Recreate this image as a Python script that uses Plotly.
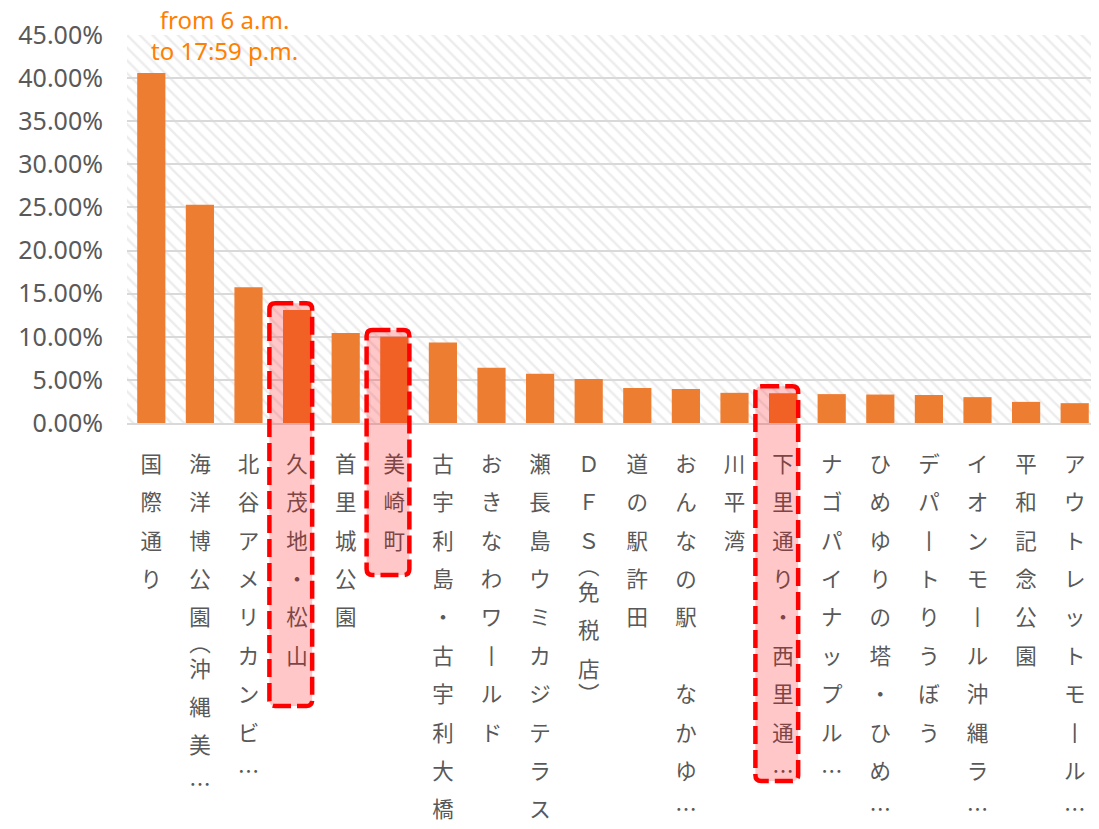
import plotly.graph_objects as go

# ---------------- data ----------------
categories = [
    "国際通り", "海洋博公園(沖縄美…", "北谷アメリカンビ…", "久茂地・松山", "首里城公園",
    "美崎町", "古宇利島・古宇利大橋", "おきなわワールド", "瀬長島ウミカジテラス", "ＤＦＳ(免税店)",
    "道の駅許田", "おんなの駅　なかゆ…", "川平湾", "下里通り・西里通…", "ナゴパイナップル…",
    "ひめゆりの塔・ひめ…", "デパートりうぼう", "イオンモール沖縄ラ…", "平和記念公園", "アウトレットモール…",
]
shares = [40.6, 25.3, 15.75, 13.1, 10.45, 10.0, 9.35, 6.4, 5.7, 5.1,
          4.05, 3.95, 3.5, 3.45, 3.35, 3.3, 3.25, 3.0, 2.45, 2.3]
highlighted = ["久茂地・松山", "美崎町", "下里通り・西里通…"]
y_ticks = [0, 5, 10, 15, 20, 25, 30, 35, 40, 45]
y_tick_labels = [f"{v:.2f}%" for v in y_ticks]
note_text = "from 6 a.m.<br>to 17:59 p.m."

# ---------------- style ----------------
PAGE_OFFSET = 8            # default body margin of the html page
W, H = 1099 - PAGE_OFFSET, 829 - PAGE_OFFSET
M = dict(l=119, r=0, t=27, b=406)
PLOT_H = H - M["t"] - M["b"]
BAR_COLOR = "#ED7D31"
GRID = "#D9D9D9"
TEXT = "#595959"
NOTE_COLOR = "#FF8000"
UNIT = 12.8                # px per text line (3 lines per character row)
BASE_FONT = UNIT / 1.3
CHAR_FONT = 21.5
VERT = {"(": "︵", ")": "︶", "ー": "丨"}
# highlight box bottoms (px from top of the page)
HL_BOTTOM_PX = {"久茂地・松山": 706, "美崎町": 575, "下里通り・西里通…": 781}


def vertical(label):
    chars = list(label)
    lines = []
    for k, ch in enumerate(chars):
        g = VERT.get(ch, ch)
        nxt = chars[k + 1] if k + 1 < len(chars) else ""
        units = 2 if (ch in "()" or nxt in "()") else 3
        lines.append(f"<span style='font-size:{CHAR_FONT}px'>{g}</span>" if g.strip() else " ")
        lines.extend([" "] * (units - 1))
    while lines and lines[-1] == " ":
        lines.pop()
    return "<br>".join(lines)


n = len(categories)
xs = list(range(n))
ymax = y_ticks[-1]

fig = go.Figure()

# hatched plot background
fig.add_trace(go.Bar(
    x=[(n - 1) / 2], y=[ymax], width=[n],
    marker=dict(color="rgba(0,0,0,0)", line=dict(width=0),
                pattern=dict(shape="\\", fgcolor="#DADADA", bgcolor="rgba(0,0,0,0)",
                             size=9, solidity=0.28)),
    hoverinfo="skip", showlegend=False,
))

fig.add_trace(go.Bar(
    x=xs, y=shares, width=0.58,
    marker=dict(color=BAR_COLOR, line=dict(width=0)),
    showlegend=False,
))

# highlight boxes (rounded, dashed)
rx = 0.12
ry = 6 / PLOT_H
plot_bottom_px = PAGE_OFFSET + M["t"] + PLOT_H
for name in highlighted:
    i = categories.index(name)
    x0, x1 = i - 0.57, i + 0.31
    y1 = (shares[i] + 0.8) / ymax
    y0 = (plot_bottom_px - HL_BOTTOM_PX[name]) / PLOT_H
    path = (f"M {x0+rx},{y1} L {x1-rx},{y1} Q {x1},{y1} {x1},{y1-ry} "
            f"L {x1},{y0+ry} Q {x1},{y0} {x1-rx},{y0} L {x0+rx},{y0} "
            f"Q {x0},{y0} {x0},{y0+ry} L {x0},{y1-ry} Q {x0},{y1} {x0+rx},{y1} Z")
    fig.add_shape(type="path", path=path, xref="x", yref="paper",
                  fillcolor="rgba(255,0,0,0.22)",
                  line=dict(color="#FF0000", width=4.5, dash="18px,6px"),
                  layer="above")

fig.add_annotation(text=note_text, x=1.5, xref="x", y=1.0, yref="paper",
                   yanchor="middle", showarrow=False,
                   font=dict(family="Noto Sans", size=24, color=NOTE_COLOR))

fig.update_layout(
    width=W, height=H, margin=M,
    paper_bgcolor="white", plot_bgcolor="white",
    barmode="overlay", hovermode=False,
    xaxis=dict(range=[-0.5, n - 0.5], tickmode="array", tickvals=xs,
               ticktext=[vertical(c) for c in categories], tickangle=0,
               tickfont=dict(family="Noto Sans CJK JP", size=BASE_FONT, color=TEXT),
               showgrid=False, zeroline=False, showline=True, linecolor=GRID,
               linewidth=2, ticks="", ticklabelstandoff=35, automargin=False),
    yaxis=dict(range=[0, ymax], tickmode="array", tickvals=y_ticks, ticktext=y_tick_labels,
               tickfont=dict(family="Noto Sans", size=25, color=TEXT),
               showgrid=True, gridcolor=GRID, gridwidth=2, zeroline=False,
               showline=False, ticks="", ticklabelstandoff=23, automargin=False),
)

fig.write_html("out.html")
